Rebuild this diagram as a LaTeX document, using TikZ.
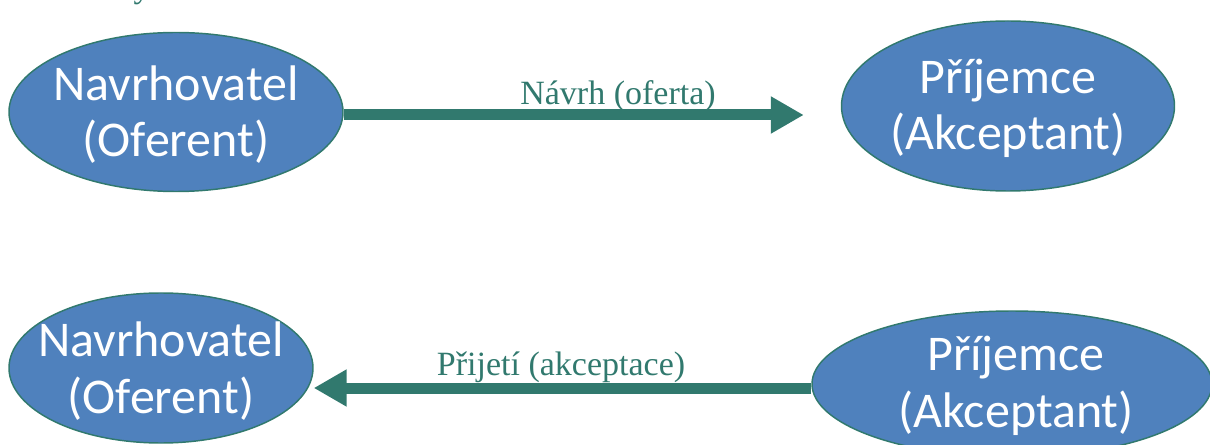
\documentclass[tikz,border=0pt]{standalone}
\usepackage{fontspec}
\setmainfont{Liberation Serif}
\newfontfamily\ovalfont{Carlito}
\usetikzlibrary{shapes.geometric,arrows.meta}
\definecolor{ovalblue}{HTML}{4F81BD}
\definecolor{tealc}{HTML}{31796E}
\tikzset{
  oval/.style={ellipse, draw=tealc, line width=1.1pt, fill=ovalblue, inner sep=0pt},
  ovaltext/.style={text=white, font=\ovalfont\fontsize{37.5pt}{42.5pt}\selectfont, align=center, inner sep=0pt, text height=26pt, text depth=8pt},
  lbl/.style={text=tealc, font=\fontsize{25.5pt}{30pt}\selectfont, inner sep=0pt, anchor=base},
  bigarrow/.style={draw=tealc, line width=8.25pt, -{Triangle[length=24.75pt,width=26.25pt]}}
}
\begin{document}
\begin{tikzpicture}[x=0.75pt,y=-0.75pt]
\useasboundingbox (0,0) rectangle (1210,445);
% clipped title fragment
\node[lbl] (title) at (142,-2) {y};
% top row
\node[oval, minimum width=334*0.75pt, minimum height=159*0.75pt] (a) at (176,112) {};
\node[ovaltext] (at) at (176,145) {Navrhovatel\\(Oferent)};
\node[oval, minimum width=333*0.75pt, minimum height=170*0.75pt] (b) at (1008,106) {};
\node[ovaltext] (bt) at (1008,138) {Příjemce\\(Akceptant)};
\draw[bigarrow, shorten >=27.75pt] ([yshift=-2.25pt]a.east) -- ([yshift=-2.25pt]a.east -| b.west);
\node[lbl] (l1) at (618,105) {Návrh (oferta)};
% bottom row
\node[oval, minimum width=304*0.75pt, minimum height=150*0.75pt] (c) at (161,368) {};
\node[ovaltext] (ct) at (161,401) {Navrhovatel\\(Oferent)};
\node[oval, minimum width=400*0.75pt, minimum height=146*0.75pt] (d) at (1012,384) {};
\node[ovaltext] (dt) at (1016,415) {Příjemce\\(Akceptant)};
\draw[bigarrow] ([yshift=-3pt]d.west) -- ([yshift=-3pt]d.west -| c.east);
\node[lbl] (l2) at (561,375) {Přijetí (akceptace)};
\end{tikzpicture}
\end{document}
